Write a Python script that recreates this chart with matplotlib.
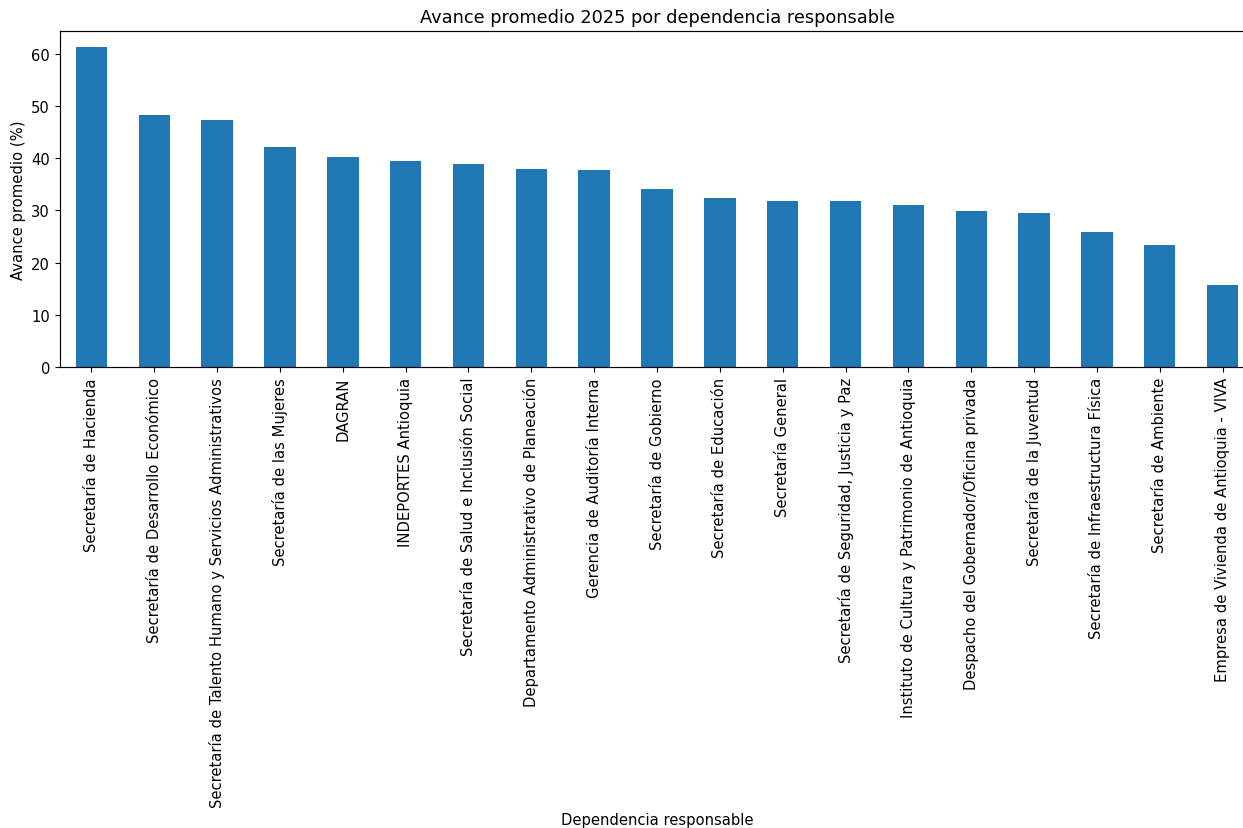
import matplotlib
matplotlib.use("Agg")
import matplotlib.pyplot as plt
import numpy as np

dependencias = [
    "Secretaría de Hacienda",
    "Secretaría de Desarrollo Económico",
    "Secretaría de Talento Humano y Servicios Administrativos",
    "Secretaría de las Mujeres",
    "DAGRAN",
    "INDEPORTES Antioquia",
    "Secretaría de Salud e Inclusión Social",
    "Departamento Administrativo de Planeación",
    "Gerencia de Auditoría Interna",
    "Secretaría de Gobierno",
    "Secretaría de Educación",
    "Secretaría General",
    "Secretaría de Seguridad, Justicia y Paz",
    "Instituto de Cultura y Patrimonio de Antioquia",
    "Despacho del Gobernador/Oficina privada",
    "Secretaría de la Juventud",
    "Secretaría de Infraestructura Física",
    "Secretaría de Ambiente",
    "Empresa de Vivienda de Antioquia - VIVA",
]
avance = [61.27, 48.33, 47.25, 42.2, 40.23, 39.35, 38.83, 38.0, 37.68,
          33.99, 32.33, 31.81, 31.81, 30.93, 29.78, 29.51, 25.82, 23.28, 15.68]

# reference looks like a slightly upscaled screenshot, so fonts a bit bigger
plt.rcParams["font.size"] = 10.6
plt.rcParams["axes.linewidth"] = 0.85
plt.rcParams["xtick.major.size"] = 3.7
plt.rcParams["ytick.major.size"] = 3.7

fig = plt.figure(figsize=(12.43, 8.29), dpi=100)
# axes runs a bit past the right edge, as in the reference
ax = fig.add_axes([60 / 1243, 461 / 829, 1194 / 1243, 336 / 829])

x = np.arange(len(dependencias))
ax.bar(x, avance, width=0.5, color="#1f77b4")
ax.set_xlim(-0.5, len(dependencias) - 0.5)
ax.set_ylim(0, max(avance) * 1.05)
ax.set_xticks(x)
ax.set_xticklabels(dependencias, rotation=90)
ax.set_yticks([0, 10, 20, 30, 40, 50, 60])

ax.set_title("Avance promedio 2025 por dependencia responsable", fontsize=12.8, pad=6.5)
ax.set_xlabel("Dependencia responsable")
ax.set_ylabel("Avance promedio (%)")

fig.savefig("out.png", dpi=100)
